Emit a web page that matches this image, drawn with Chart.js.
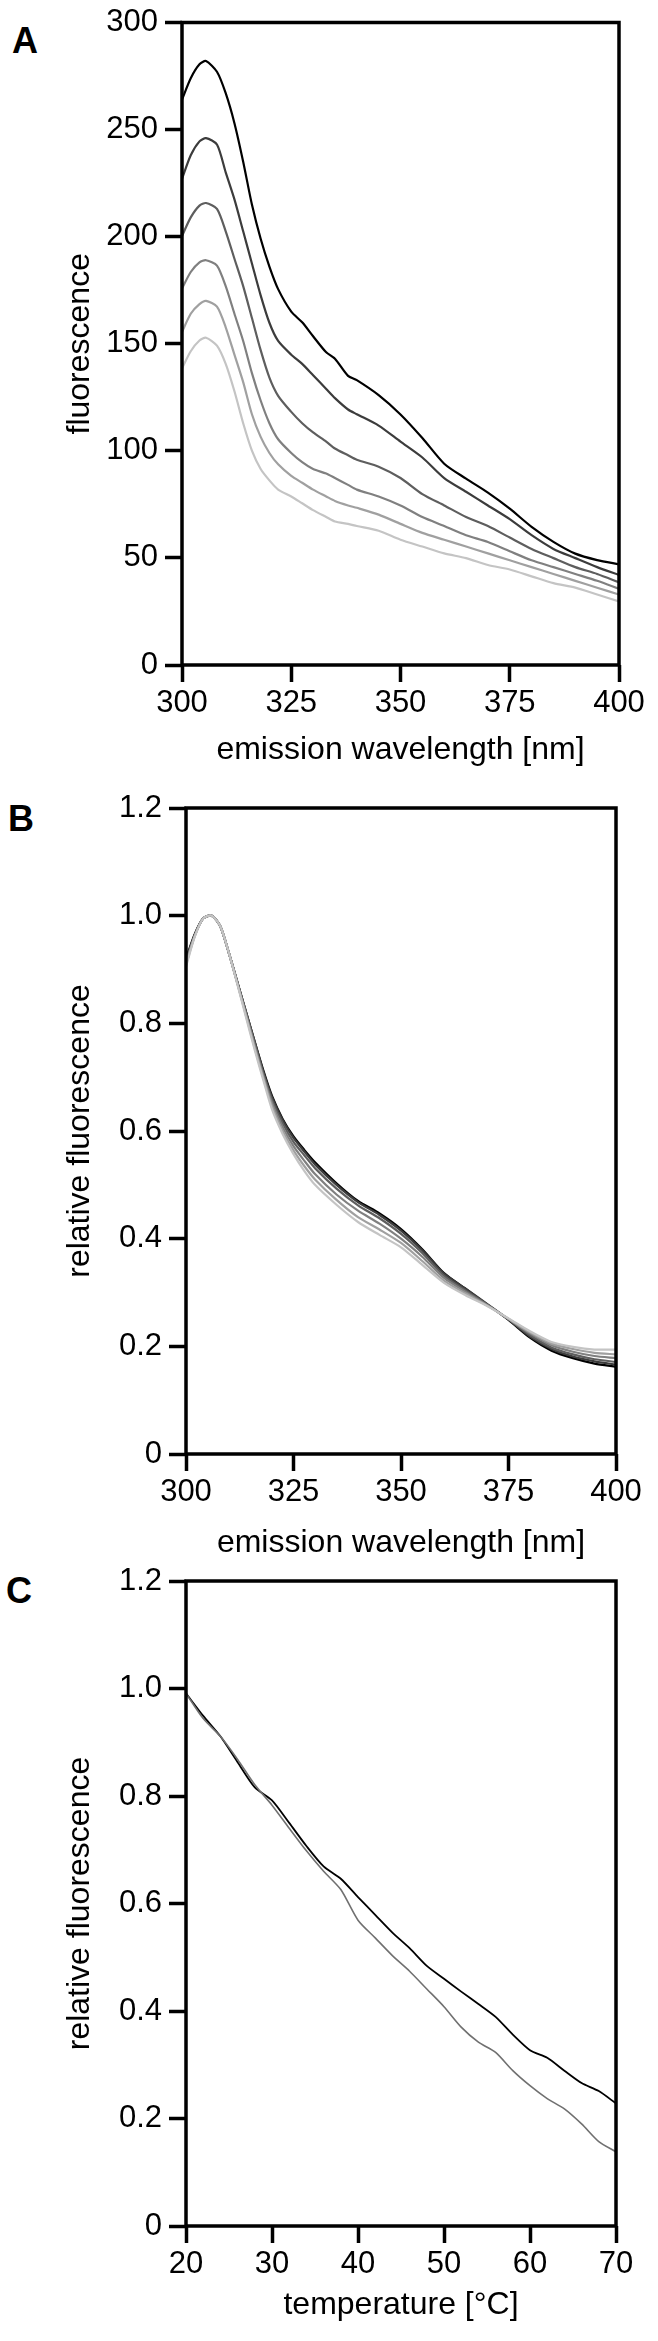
<!DOCTYPE html>
<html>
<head>
<meta charset="utf-8">
<title>Fluorescence spectra</title>
<script src="https://cdn.jsdelivr.net/npm/chart.js@4.4.0/dist/chart.umd.min.js"></script>
<style>
  body {
    margin: 0;
    width: 658px;
    height: 2341px;
    position: relative;
    overflow: hidden;
    background: #ffffff;
    font-family: "Liberation Sans", Arial, sans-serif;
  }
  canvas {
    position: absolute;
    left: 0;
  }
  .panel-letter {
    position: absolute;
    font-weight: bold;
    font-size: 36px;
    line-height: 1;
    color: #000;
  }
</style>
</head>
<body>
<div class="panel-letter" style="left:12px; top:23px;">A</div>
<div class="panel-letter" style="left:8px; top:801px;">B</div>
<div class="panel-letter" style="left:6px; top:1573px;">C</div>

<canvas id="chartA" width="658" height="780" style="top:0px;"></canvas>
<canvas id="chartB" width="658" height="800" style="top:770px;"></canvas>
<canvas id="chartC" width="658" height="801" style="top:1540px;"></canvas>

<script>
// Panel A: raw emission spectra (six curves, dark -> light)
const wavelengthsA = [300, 302, 304, 305.5, 308, 310, 312, 314, 316, 318, 320, 322, 325, 327.5, 330, 333, 335, 338, 340, 345, 350, 355, 360, 365, 370, 375, 380, 385, 390, 395, 400];
const spectrumA1 = [264, 274, 280.5, 282, 277, 267, 253, 235, 215, 199, 186, 175.5, 165, 160, 153.5, 146, 143, 135, 133, 126, 117, 106, 94, 87, 80.5, 73, 64.5, 57.5, 52, 49, 47];
const spectrumA2 = [227, 238, 244.5, 246, 243, 230, 217.4, 202.5, 187.5, 172.6, 159.8, 151.3, 144.9, 140.6, 135.3, 128.9, 124.6, 119.3, 117.1, 111.8, 104.3, 96.9, 87.3, 80.9, 74.5, 68.1, 60.6, 54.2, 49.9, 45.7, 42];
const spectrumA3 = [200.3, 209, 214.5, 215.7, 213, 202.5, 189.7, 176.9, 162, 147, 134.2, 125.7, 118.2, 112.9, 108.6, 104.3, 101.1, 97.9, 95.8, 92.6, 87.3, 79.8, 74.5, 69.1, 64.9, 59.5, 54.2, 49.9, 45.7, 42.5, 38.6];
const spectrumA4 = [175.8, 183.5, 188, 189, 186.5, 176.9, 164, 151.3, 136.3, 123.5, 112.9, 105.4, 99, 94.7, 91.5, 89.4, 87.3, 84.1, 81.9, 78.7, 74.5, 69.1, 64.9, 60.6, 57.4, 53.1, 48.9, 45.7, 42.5, 39.3, 35.6];
const spectrumA5 = [155.5, 164, 168.5, 170, 167.3, 157.7, 144.9, 132.1, 117.1, 106.5, 99, 93.7, 88.3, 85.1, 81.9, 78.7, 76.6, 74.5, 73.4, 70.2, 65.9, 61.7, 58.5, 55.3, 52.1, 48.9, 45.7, 42.5, 39.3, 36.1, 32.9];
const spectrumA6 = [138.5, 146.5, 151.5, 152.8, 149.1, 140.6, 127.8, 112.9, 100.1, 91.5, 86.2, 81.9, 78.7, 75.5, 72.3, 69.1, 67, 65.9, 64.9, 62.7, 58.5, 55.3, 52.1, 49.9, 46.7, 44.6, 41.4, 38.2, 36.1, 32.9, 29.7];
const ticksA_y = [0, 50, 100, 150, 200, 250, 300];

// Panel B: normalised spectra (six curves, dark -> light)
const wavelengthsB = [300, 302, 304, 306, 308, 310, 312, 314, 316, 318, 320, 322.5, 325, 327.5, 330, 335, 340, 345, 350, 355, 360, 365, 370, 375, 380, 385, 390, 395, 400];
const spectrumB1 = [0.92, 0.965, 0.995, 1.0, 0.98, 0.93, 0.875, 0.82, 0.765, 0.712, 0.665, 0.622, 0.59, 0.565, 0.542, 0.503, 0.47, 0.447, 0.418, 0.38, 0.336, 0.307, 0.278, 0.249, 0.216, 0.192, 0.178, 0.168, 0.162];
const spectrumB2 = [0.918, 0.964, 0.995, 1.0, 0.98, 0.93, 0.875, 0.82, 0.765, 0.71, 0.663, 0.62, 0.587, 0.562, 0.538, 0.5, 0.468, 0.444, 0.415, 0.378, 0.335, 0.307, 0.279, 0.25, 0.218, 0.195, 0.181, 0.172, 0.166];
const spectrumB3 = [0.915, 0.963, 0.995, 1.0, 0.98, 0.93, 0.874, 0.818, 0.762, 0.706, 0.658, 0.614, 0.58, 0.555, 0.531, 0.493, 0.462, 0.438, 0.409, 0.373, 0.331, 0.304, 0.278, 0.25, 0.221, 0.198, 0.185, 0.176, 0.171];
const spectrumB4 = [0.912, 0.962, 0.995, 1.0, 0.98, 0.93, 0.873, 0.816, 0.758, 0.702, 0.652, 0.607, 0.572, 0.545, 0.52, 0.482, 0.452, 0.428, 0.4, 0.366, 0.327, 0.301, 0.277, 0.251, 0.224, 0.202, 0.19, 0.182, 0.178];
const spectrumB5 = [0.909, 0.961, 0.995, 1.0, 0.98, 0.93, 0.872, 0.813, 0.754, 0.698, 0.646, 0.6, 0.564, 0.535, 0.51, 0.472, 0.44, 0.417, 0.392, 0.358, 0.322, 0.298, 0.276, 0.251, 0.226, 0.205, 0.195, 0.188, 0.185];
const spectrumB6 = [0.905, 0.96, 0.995, 1.0, 0.98, 0.93, 0.871, 0.81, 0.75, 0.694, 0.64, 0.594, 0.557, 0.526, 0.5, 0.463, 0.431, 0.407, 0.384, 0.351, 0.318, 0.295, 0.275, 0.252, 0.228, 0.208, 0.199, 0.194, 0.194];

// Panel C: temperature scans
const temperatures = [20, 22, 24, 26, 28, 30, 32, 34, 36, 38, 40, 42, 44, 46, 48, 50, 52, 54, 56, 58, 60, 62, 64, 66, 68, 70];
const tempScanDark = [0.991, 0.949, 0.911, 0.863, 0.816, 0.792, 0.75, 0.707, 0.669, 0.646, 0.612, 0.579, 0.546, 0.517, 0.484, 0.46, 0.436, 0.413, 0.389, 0.356, 0.327, 0.313, 0.289, 0.266, 0.251, 0.228];
const tempScanGray = [0.991, 0.944, 0.911, 0.868, 0.821, 0.783, 0.74, 0.698, 0.66, 0.626, 0.569, 0.536, 0.503, 0.474, 0.441, 0.408, 0.37, 0.342, 0.323, 0.289, 0.261, 0.237, 0.218, 0.19, 0.157, 0.138];

const spectrumColors = ["#000000", "#3c3c3c", "#5e5e5e", "#808080", "#a0a0a0", "#c4c4c4"];
const FONT = "'Liberation Sans', Arial, Helvetica, sans-serif";

// draws the black box round the plot area
const frameBox = {
  id: "frameBox",
  afterDraw(chart) {
    const { ctx, chartArea: a } = chart;
    ctx.save();
    ctx.strokeStyle = "#000";
    ctx.lineWidth = 3.5;
    ctx.strokeRect(a.left, a.top, a.right - a.left, a.bottom - a.top);
    ctx.restore();
  },
};

function toPoints(xs, ys) {
  return xs.map((x, i) => ({ x: x, y: ys[i] }));
}

function makeSeries(xs, ys, color, width) {
  return {
    data: toPoints(xs, ys),
    borderColor: color,
    borderWidth: width,
    pointRadius: 0,
    tension: 0.25,
    fill: false,
  };
}

function axisGrid() {
  return {
    display: true,
    drawOnChartArea: false,
    drawTicks: true,
    tickLength: 17,
    tickWidth: 3.5,
    tickColor: "#000",
    color: "#000",
  };
}

function buildChart(id, p) {
  const ctx = document.getElementById(id).getContext("2d");
  return new Chart(ctx, {
    type: "line",
    data: { datasets: p.datasets },
    options: {
      responsive: false,
      animation: false,
      layout: { padding: { top: p.padTop, right: p.padRight, left: 0, bottom: 0 } },
      plugins: { legend: { display: false }, tooltip: { enabled: false } },
      scales: {
        x: {
          type: "linear",
          min: p.xMin,
          max: p.xMax,
          border: { display: false },
          grid: axisGrid(),
          ticks: {
            stepSize: p.xStep,
            color: "#000",
            padding: 6,
            maxRotation: 0,
            font: { family: FONT, size: 31, lineHeight: 1 },
          },
          title: {
            display: true,
            text: p.xTitle,
            color: "#000",
            font: { family: FONT, size: 32 },
            padding: { top: 0, bottom: p.xTitlePad },
          },
          afterFit: (scale) => { scale.height = p.xHeight; },
        },
        y: {
          type: "linear",
          min: p.yMin,
          max: p.yMax,
          border: { display: false },
          grid: axisGrid(),
          ticks: {
            stepSize: p.yStep,
            color: "#000",
            padding: 7,
            font: { family: FONT, size: 31, lineHeight: 1 },
            callback: p.yFormat,
          },
          title: {
            display: true,
            text: p.yTitle,
            color: "#000",
            font: { family: FONT, size: 32 },
            padding: { top: 61, bottom: 0 },
          },
          afterFit: (scale) => { scale.width = p.yWidth; },
        },
      },
    },
    plugins: [frameBox],
  });
}

const relFormat = (v) => (Math.abs(v) < 1e-9 ? "0" : v.toFixed(1));

const seriesA = [spectrumA1, spectrumA2, spectrumA3, spectrumA4, spectrumA5, spectrumA6];
const seriesB = [spectrumB1, spectrumB2, spectrumB3, spectrumB4, spectrumB5, spectrumB6];

buildChart("chartA", {
  // lightest drawn first so the dark curve sits on top
  datasets: seriesA.map((s, i) => makeSeries(wavelengthsA, s, spectrumColors[i], 2.2)).reverse(),
  xMin: 300, xMax: 400, xStep: 25,
  yMin: ticksA_y[0], yMax: ticksA_y[ticksA_y.length - 1], yStep: 50,
  yFormat: (v) => String(v),
  xTitle: "emission wavelength [nm]",
  yTitle: "fluorescence",
  padTop: 19, padRight: 39,
  yWidth: 182, xHeight: 115, xTitlePad: 11,
});

buildChart("chartB", {
  datasets: seriesB.map((s, i) => makeSeries(wavelengthsB, s, spectrumColors[i], 2.2)).reverse(),
  xMin: 300, xMax: 400, xStep: 25,
  yMin: 0, yMax: 1.2, yStep: 0.2,
  yFormat: relFormat,
  xTitle: "emission wavelength [nm]",
  yTitle: "relative fluorescence",
  padTop: 38, padRight: 42,
  yWidth: 186, xHeight: 116, xTitlePad: 8,
});

buildChart("chartC", {
  datasets: [
    makeSeries(temperatures, tempScanGray, "#707070", 1.6),
    makeSeries(temperatures, tempScanDark, "#000000", 1.8),
  ],
  xMin: 20, xMax: 70, xStep: 10,
  yMin: 0, yMax: 1.2, yStep: 0.2,
  yFormat: relFormat,
  xTitle: "temperature [°C]",
  yTitle: "relative fluorescence",
  padTop: 41, padRight: 42,
  yWidth: 186, xHeight: 115, xTitlePad: 17,
});
</script>
</body>
</html>
